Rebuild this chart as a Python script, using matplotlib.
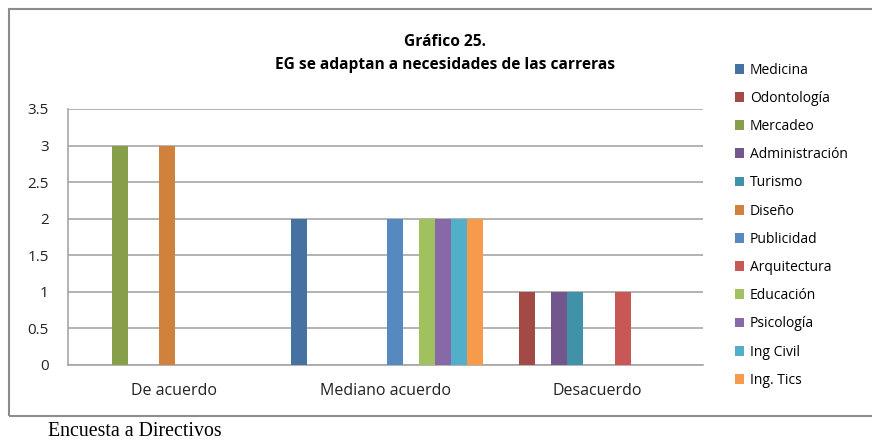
import matplotlib
matplotlib.use("Agg")
import matplotlib.pyplot as plt
from matplotlib.patches import Rectangle
import numpy as np

categories = ["De acuerdo", "Mediano acuerdo", "Desacuerdo"]
series = ["Medicina", "Odontología", "Mercadeo", "Administración", "Turismo", "Diseño",
          "Publicidad", "Arquitectura", "Educación", "Psicología", "Ing Civil", "Ing. Tics"]
medicina = [0, 2, 0]
odontologia = [0, 0, 1]
mercadeo = [3, 0, 0]
administracion = [0, 0, 1]
turismo = [0, 0, 1]
diseno = [3, 0, 0]
publicidad = [0, 2, 0]
arquitectura = [0, 0, 1]
educacion = [0, 2, 0]
psicologia = [0, 2, 0]
ing_civil = [0, 2, 0]
ing_tics = [0, 2, 0]
values = [medicina, odontologia, mercadeo, administracion, turismo, diseno,
          publicidad, arquitectura, educacion, psicologia, ing_civil, ing_tics]
colors = ["#4571A3", "#A34A46", "#879E4B", "#72578D", "#4191A8", "#D0823D",
          "#5589C0", "#C85856", "#A1C05E", "#8669A6", "#52AFC9", "#F79A4C"]

plt.rcParams['font.family'] = ['Open Sans', 'DejaVu Sans']

fig = plt.figure(figsize=(8.72, 4.41), dpi=100)
# outer chart frame
fig.patches.append(Rectangle((9/872, 1-416/441), 1.0, (416-9)/441, transform=fig.transFigure,
                             fill=False, edgecolor="#8c8c8c", linewidth=1.5))

ax = fig.add_axes([68/872, 1-365/441, (703-68)/872, (365-109)/441])
x = np.arange(len(categories))
bw = 16/212
for i, (name, vals) in enumerate(zip(series, values)):
    ax.bar(x + (i - 5.4) * bw, vals, width=bw, color=colors[i], label=name, zorder=3)

ax.set_xlim(-0.5, 2.5)
ax.set_ylim(0, 3.5)
ax.set_yticks(np.arange(0, 3.51, 0.5))
ax.set_yticklabels(["0", "0.5", "1", "1.5", "2", "2.5", "3", "3.5"])
ax.set_xticks(x)
ax.set_xticklabels(categories)
ax.tick_params(axis='x', length=0, labelsize=11.5, colors="#222222", pad=13)
ax.tick_params(axis='y', length=0, labelsize=11, colors="#222222", pad=14)
ax.grid(axis='y', color="#a6a6a6", linewidth=1.2, zorder=0)
for s in ["top", "right"]:
    ax.spines[s].set_visible(False)
for s in ["left", "bottom"]:
    ax.spines[s].set_color("#a6a6a6")
    ax.spines[s].set_linewidth(1.2)

fig.text(445/872, 1-42/441, "Gráfico 25.", ha="center", va="center", fontsize=11.2, fontweight="bold")
fig.text(445/872, 1-65/441, "EG se adaptan a necesidades de las carreras", ha="center", va="center",
         fontsize=11.2, fontweight="bold")

leg = fig.legend(loc="upper left", bbox_to_anchor=(729/872, 1-57/441), frameon=False,
                 fontsize=10, handlelength=0.7, handleheight=0.7, handletextpad=0.4,
                 labelspacing=0.95, borderaxespad=0)

fig.text(48/872, 1-431/441, "Encuesta a Directivos", ha="left", va="center",
         fontsize=14.3, family=["Liberation Serif", "DejaVu Serif"])

fig.savefig("out.png", dpi=100)
